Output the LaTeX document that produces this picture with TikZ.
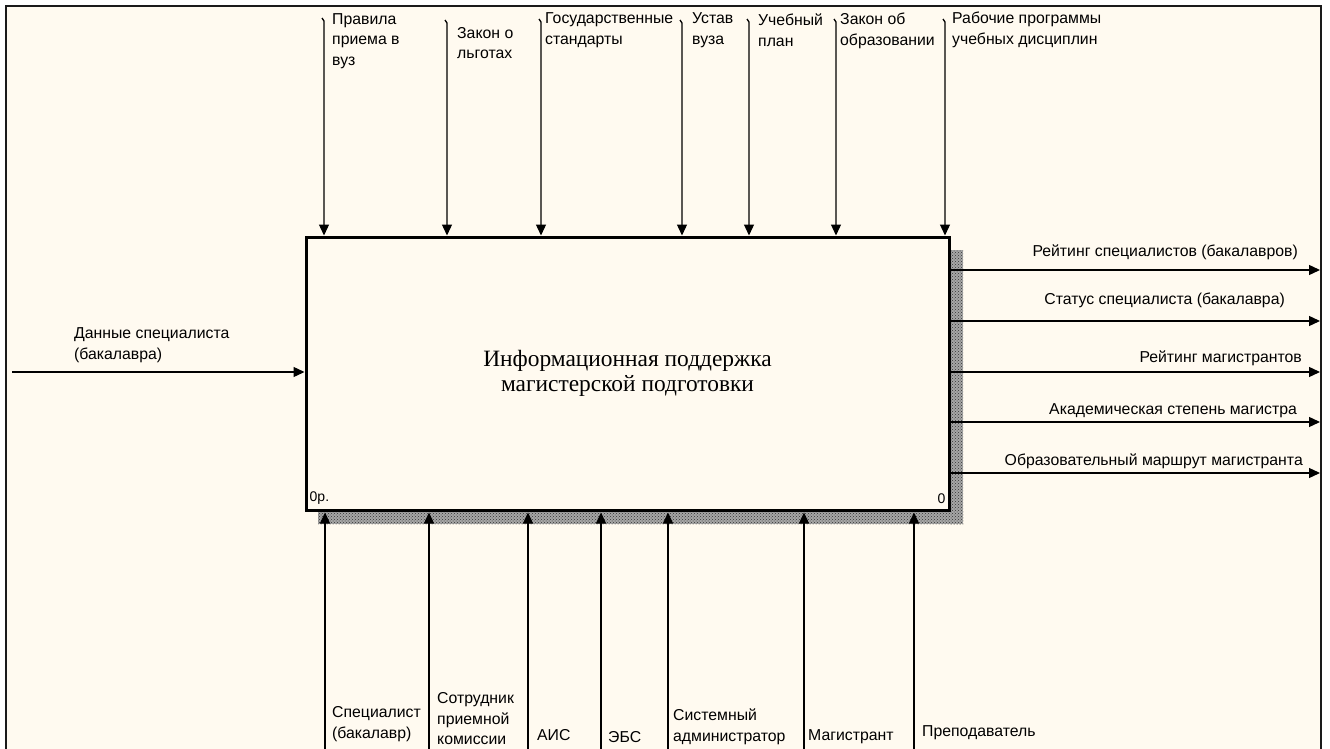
\documentclass[tikz,border=0pt]{standalone}
\usepackage{fontspec}
\setmainfont{Liberation Sans}
\newfontfamily\titlefont{Liberation Serif}
\usetikzlibrary{arrows.meta,patterns}
\definecolor{paper}{HTML}{FFFAF0}
\definecolor{frameline}{HTML}{1A1A1A}

\begin{document}
\begin{tikzpicture}[x=1pt,y=-1pt,
  lbl/.style={inner sep=0pt, align=left, font=\fontsize{15.8}{20.5}\selectfont},
  lblr/.style={lbl, align=right, anchor=east},
  arr/.style={line width=1.3pt, -{Triangle[length=11pt,width=10pt]}},
  funcbox/.style={draw, line width=3pt, fill=paper, minimum width=643pt,
    minimum height=273pt, inner sep=0pt, align=center,
    font=\titlefont\fontsize{23.4}{25.5}\selectfont},
  hatch/.style={fill=black!35, postaction={pattern=crosshatch dots, pattern color=black!80}},
]
% page and sheet frame
\useasboundingbox (0,0) rectangle (1330,749);
\fill[white] (0,0) rectangle (1330,749);
\fill[paper] (6,6) rectangle (1321,749);
\draw[frameline, line width=2.5pt] (6,749) -- (6,6) -- (1321,6) -- (1321,749);

% shadow of the activity box
\path[hatch] (949,250) rectangle (963,524);
\path[hatch] (318,510) rectangle (963,524);

% activity box
\node[funcbox] (A0) at (627.5,373.5)
  {Информационная поддержка\\магистерской подготовки};
\node[lbl, anchor=west, font=\fontsize{14}{15}\selectfont] (n0) at ([xshift=5pt,yshift=13pt]A0.south west) {0р.};
\node[lbl, anchor=east, font=\fontsize{14}{15}\selectfont] (n1) at ([xshift=-5pt,yshift=13pt]A0.south east) {0};

% controls (top)
\coordinate (c1) at (324,21);
\coordinate (c2) at (447,23);
\coordinate (c3) at (541,22);
\coordinate (c4) at (682,23);
\coordinate (c5) at (749,22);
\coordinate (c6) at (836,22);
\coordinate (c7) at (945,22);
\foreach \c in {c1,c2,c3,c4,c5,c6,c7}
  \draw[arr] (\c) ++(-2,-3) -- (\c) -- (\c |- A0.north);

\node[lbl, anchor=west] (t1) at (332,41) {Правила\\приема в\\вуз};
\node[lbl, anchor=west] (t2) at (457,43) {Закон о\\льготах};
\node[lbl, anchor=west] (t3) at (545,30) {Государственные\\стандарты};
\node[lbl, anchor=west] (t4) at (692,30) {Устав\\вуза};
\node[lbl, anchor=west] (t5) at (758,30) {Учебный\\план};
\node[lbl, anchor=west] (t6) at (840,31) {Закон об\\образовании};
\node[lbl, anchor=west] (t7) at (952,30) {Рабочие программы\\учебных дисциплин};

% input (left)
\coordinate (i1) at (12,372);
\draw[arr] (i1) -- (A0.west |- i1);
\node[lbl, anchor=west] (l1) at (74,345) {Данные специалиста\\(бакалавра)};

% outputs (right)
\coordinate (o1) at (1320,270);
\coordinate (o2) at (1320,321);
\coordinate (o3) at (1320,372);
\coordinate (o4) at (1320,422);
\coordinate (o5) at (1320,473);
\foreach \o in {o1,o2,o3,o4,o5}
  \draw[arr] (A0.east |- \o) -- (\o);

\node[lblr] (r1) at (1298,252) {Рейтинг специалистов (бакалавров)};
\node[lblr] (r2) at (1285,300) {Статус специалиста (бакалавра)};
\node[lblr] (r3) at (1302,358) {Рейтинг магистрантов};
\node[lblr] (r4) at (1297,411) {Академическая степень магистра};
\node[lblr] (r5) at (1303,461) {Образовательный маршрут магистранта};

% mechanisms (bottom)
\coordinate (m1) at (325,749);
\coordinate (m2) at (429,749);
\coordinate (m3) at (528,749);
\coordinate (m4) at (601,749);
\coordinate (m5) at (668,749);
\coordinate (m6) at (804,749);
\coordinate (m7) at (914,749);
\foreach \m in {m1,m2,m3,m4,m5,m6,m7}
  \draw[arr, shorten >=-0.5pt] (\m) -- ([yshift=-1.5pt]\m |- A0.south);

\node[lbl, anchor=west] (b1) at (332,724) {Специалист\\(бакалавр)};
\node[lbl, anchor=west] (b2) at (437,719) {Сотрудник\\приемной\\комиссии};
\node[lbl, anchor=west] (b3) at (537,735) {АИС};
\node[lbl, anchor=west] (b4) at (608,737) {ЭБС};
\node[lbl, anchor=west] (b5) at (673,727) {Системный\\администратор};
\node[lbl, anchor=west] (b6) at (808,737) {Магистрант};
\node[lbl, anchor=west] (b7) at (922,733) {Преподаватель};
\end{tikzpicture}
\end{document}
